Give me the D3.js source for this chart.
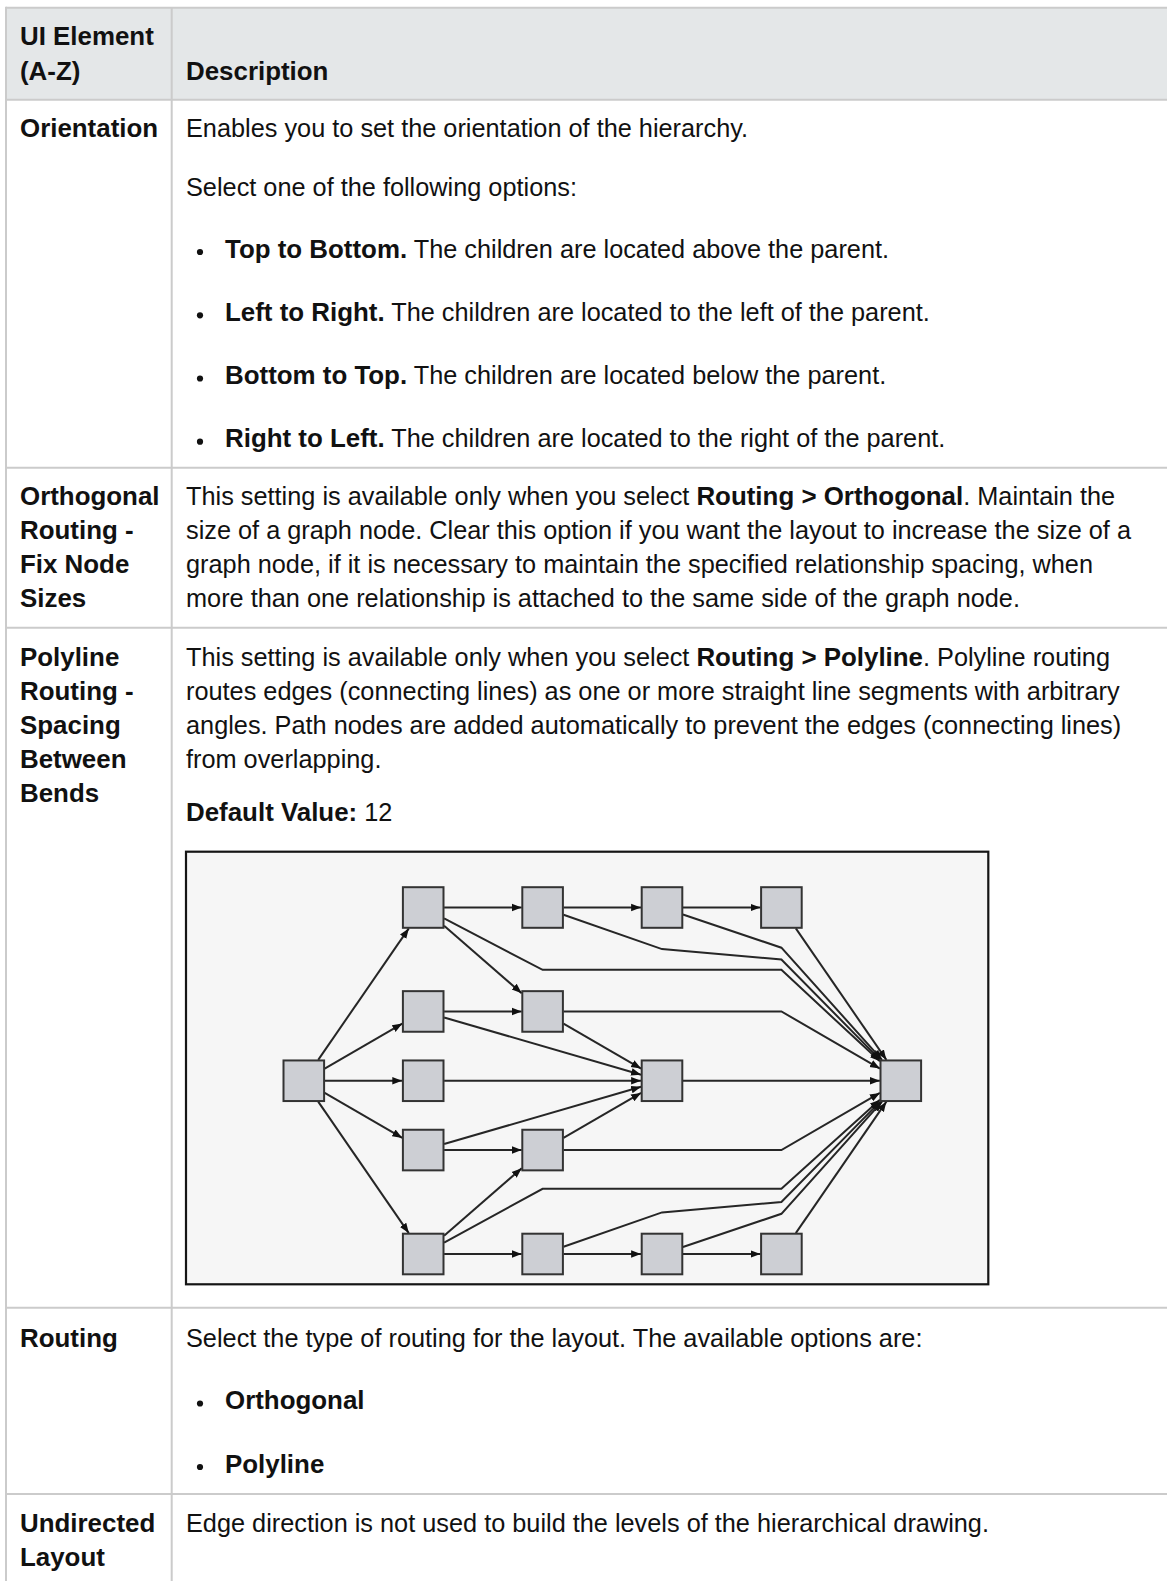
<!DOCTYPE html>
<html><head><meta charset="utf-8">
<script src="https://cdn.jsdelivr.net/npm/d3@7"></script>
<style>html,body{margin:0;padding:0;background:#fff;} svg{display:block;} text{white-space:pre;}</style>
</head><body>
<svg id="c" width="1167" height="1581"></svg>
<script>
// ---------------- content ----------------
const headerLabels = ["UI Element", "(A-Z)"];
const headerDescription = "Description";
const elementLabels = [
  ["Orientation"],
  ["Orthogonal", "Routing -", "Fix Node", "Sizes"],
  ["Polyline", "Routing -", "Spacing", "Between", "Bends"],
  ["Routing"],
  ["Undirected", "Layout"]
];
const orientationLines = [
  [["Enables you to set the orientation of the hierarchy.", false]],
  [["Select one of the following options:", false]]
];
const orientationBullets = [
  [["Top to Bottom.", true], [" The children are located above the parent.", false]],
  [["Left to Right.", true], [" The children are located to the left of the parent.", false]],
  [["Bottom to Top.", true], [" The children are located below the parent.", false]],
  [["Right to Left.", true], [" The children are located to the right of the parent.", false]]
];
const orthogonalLines = [
  [["This setting is available only when you select ", false], ["Routing > Orthogonal", true], [". Maintain the", false]],
  [["size of a graph node. Clear this option if you want the layout to increase the size of a", false]],
  [["graph node, if it is necessary to maintain the specified relationship spacing, when", false]],
  [["more than one relationship is attached to the same side of the graph node.", false]]
];
const polylineLines = [
  [["This setting is available only when you select ", false], ["Routing > Polyline", true], [". Polyline routing", false]],
  [["routes edges (connecting lines) as one or more straight line segments with arbitrary", false]],
  [["angles. Path nodes are added automatically to prevent the edges (connecting lines)", false]],
  [["from overlapping.", false]]
];
const defaultValueLine = [["Default Value:", true], [" 12", false]];
const routingLines = [
  [["Select the type of routing for the layout. The available options are:", false]]
];
const routingBullets = [
  [["Orthogonal", true]],
  [["Polyline", true]]
];
const undirectedLines = [
  [["Edge direction is not used to build the levels of the hierarchical drawing.", false]]
];

// ---------------- graph (columns = hierarchy levels, lvl = vertical slot) ----------------
const graphColumns = [0, 1, 2, 3, 4, 5];
const graphLevels = [-2.5, -1, 0, 1, 2.5];
const graphNodes = [
  {id: "n0", col: 0, lvl: 0},
  {id: "a1", col: 1, lvl: -2.5}, {id: "b1", col: 1, lvl: -1}, {id: "c1", col: 1, lvl: 0},
  {id: "d1", col: 1, lvl: 1}, {id: "e1", col: 1, lvl: 2.5},
  {id: "a2", col: 2, lvl: -2.5}, {id: "b2", col: 2, lvl: -1}, {id: "d2", col: 2, lvl: 1}, {id: "e2", col: 2, lvl: 2.5},
  {id: "a3", col: 3, lvl: -2.5}, {id: "m3", col: 3, lvl: 0}, {id: "e3", col: 3, lvl: 2.5},
  {id: "a4", col: 4, lvl: -2.5}, {id: "e4", col: 4, lvl: 2.5},
  {id: "s5", col: 5, lvl: 0}
];
const graphEdges = [
  {s: "n0", t: "a1"}, {s: "n0", t: "b1"}, {s: "n0", t: "c1"}, {s: "n0", t: "d1"}, {s: "n0", t: "e1"},
  {s: "a1", t: "a2"}, {s: "a1", t: "b2"}, {s: "a1", t: "s5", via: [[2, -1.6], [4, -1.6]]},
  {s: "a2", t: "a3"}, {s: "a2", t: "s5", via: [[3, -1.9], [4, -1.75]]},
  {s: "a3", t: "a4"}, {s: "a3", t: "s5", via: [[4, -1.92]]},
  {s: "a4", t: "s5"},
  {s: "b1", t: "b2"}, {s: "b1", t: "m3"},
  {s: "b2", t: "m3"}, {s: "b2", t: "s5", via: [[4, -1]]},
  {s: "c1", t: "m3"},
  {s: "d1", t: "d2"}, {s: "d1", t: "m3"},
  {s: "d2", t: "m3"}, {s: "d2", t: "s5", via: [[4, 1]]},
  {s: "e1", t: "d2"}, {s: "e1", t: "e2"}, {s: "e1", t: "s5", via: [[2, 1.56], [4, 1.56]]},
  {s: "e2", t: "e3"}, {s: "e2", t: "s5", via: [[3, 1.9], [4, 1.75]]},
  {s: "e3", t: "e4"}, {s: "e3", t: "s5", via: [[4, 1.92]]},
  {s: "e4", t: "s5"},
  {s: "m3", t: "s5"}
];

// ---------------- drawing ----------------
const svg = d3.select("#c");
const FONT = "'Liberation Sans', Arial, Helvetica, sans-serif";
const FS = 25.3, FSB = 25.9;
const BORDER = "#cbcbcb";
const W = 1167;

const tableLeft = 6, tableTop = 7.7, colDiv = 171.7;
const rowLines = [99.7, 467.7, 627.7, 1307.7, 1494];
const labelX = 20, descX = 186, bulletX = 200, bulletTextX = 225;

// header background
svg.append("rect").attr("x", tableLeft).attr("y", tableTop).attr("width", W - tableLeft).attr("height", rowLines[0] - tableTop).attr("fill", "#e4e7e8");

// grid lines
const grid = svg.append("g").attr("stroke", BORDER).attr("stroke-width", 2);
grid.append("line").attr("x1", tableLeft).attr("x2", W).attr("y1", tableTop).attr("y2", tableTop);
grid.selectAll("line.r").data(rowLines).join("line").attr("class", "r")
  .attr("x1", tableLeft).attr("x2", W).attr("y1", d => d).attr("y2", d => d);
grid.append("line").attr("x1", tableLeft).attr("x2", tableLeft).attr("y1", tableTop - 1).attr("y2", 1581);
grid.append("line").attr("x1", colDiv).attr("x2", colDiv).attr("y1", tableTop).attr("y2", 1581);

function writeLine(x, y, segs) {
  const t = svg.append("text").attr("x", x).attr("y", y)
    .attr("font-family", FONT).attr("fill", "#111");
  t.selectAll("tspan").data(segs).join("tspan")
    .attr("font-weight", d => d[1] ? "bold" : "normal")
    .attr("font-size", d => d[1] ? FSB : FS).text(d => d[0]);
  return t;
}
function bullet(y, segs) {
  svg.append("circle").attr("cx", bulletX).attr("cy", y - 5.5).attr("r", 3.1).attr("fill", "#111");
  writeLine(bulletTextX, y, segs);
}

// header
writeLine(labelX, 45.3, [[headerLabels[0], true]]);
writeLine(labelX, 79.6, [[headerLabels[1], true]]);
writeLine(descX, 79.6, [[headerDescription, true]]);

// left labels
const labelBaselines = [
  [137],
  [505, 539, 573, 607],
  [665.6, 699.6, 733.6, 767.6, 801.6],
  [1346.5],
  [1532, 1566.3]
];
elementLabels.forEach((lines, i) => lines.forEach((l, j) => writeLine(labelX, labelBaselines[i][j], [[l, true]])));

// Orientation
writeLine(descX, 137, orientationLines[0]);
writeLine(descX, 196, orientationLines[1]);
[257.5, 320.8, 384, 447.2].forEach((y, i) => bullet(y, orientationBullets[i]));
// Orthogonal
[505, 539, 573, 607].forEach((y, i) => writeLine(descX, y, orthogonalLines[i]));
// Polyline
[665.6, 699.6, 733.6, 767.6].forEach((y, i) => writeLine(descX, y, polylineLines[i]));
writeLine(descX, 821, defaultValueLine);
// Routing
writeLine(descX, 1346.5, routingLines[0]);
[1409, 1472.5].forEach((y, i) => bullet(y, routingBullets[i]));
// Undirected
writeLine(descX, 1532, undirectedLines[0]);

// ---------------- graph picture ----------------
const box = {x: 186, y: 851.7, w: 988.3 - 186, h: 1284.3 - 851.7};
svg.append("rect").attr("x", box.x).attr("y", box.y).attr("width", box.w).attr("height", box.h)
  .attr("fill", "#f6f6f6").attr("stroke", "#151515").attr("stroke-width", 2.2);

const xS = d3.scaleLinear().domain(d3.extent(graphColumns)).range([303.8, 900.8]);
const yS = d3.scaleLinear().domain(d3.extent(graphLevels)).range([907.5, 1254]);
const half = 20.3;
const nodeById = new Map(graphNodes.map(n => [n.id, n]));
const ctr = n => [xS(n.col), yS(n.lvl)];

svg.append("defs").append("marker").attr("id", "arr")
  .attr("viewBox", "0 -5 10 10").attr("refX", 10).attr("refY", 0)
  .attr("markerUnits", "userSpaceOnUse").attr("markerWidth", 10).attr("markerHeight", 10)
  .attr("orient", "auto")
  .append("path").attr("d", "M0,-3.8L10,0L0,3.8Z").attr("fill", "#111");

function clip(c, p) {
  const dx = p[0] - c[0], dy = p[1] - c[1];
  const tx = dx ? (half + 0.6) / Math.abs(dx) : Infinity;
  const ty = dy ? (half + 0.6) / Math.abs(dy) : Infinity;
  const t = Math.min(tx, ty);
  return [c[0] + dx * t, c[1] + dy * t];
}
const line = d3.line();
svg.append("g").selectAll("path").data(graphEdges).join("path")
  .attr("d", e => {
    const s = ctr(nodeById.get(e.s)), t = ctr(nodeById.get(e.t));
    const via = (e.via || []).map(v => [xS(v[0]), yS(v[1])]);
    const pts = [s, ...via, t];
    pts[0] = clip(s, pts[1]);
    pts[pts.length - 1] = clip(t, pts[pts.length - 2]);
    return line(pts);
  })
  .attr("fill", "none").attr("stroke", "#262626").attr("stroke-width", 2)
  .attr("marker-end", "url(#arr)");

svg.append("g").selectAll("rect").data(graphNodes).join("rect")
  .attr("x", n => xS(n.col) - half).attr("y", n => yS(n.lvl) - half)
  .attr("width", half * 2).attr("height", half * 2)
  .attr("fill", "#cdcfd4").attr("stroke", "#333").attr("stroke-width", 2);
</script>
</body></html>
